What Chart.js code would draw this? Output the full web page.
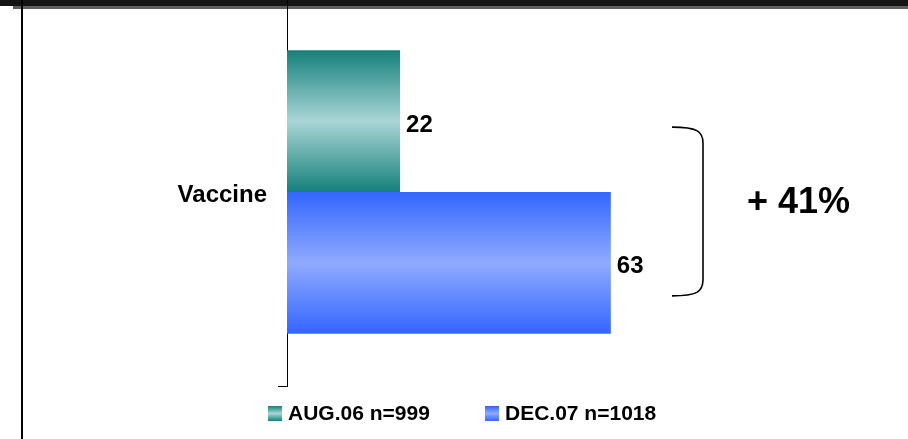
<!DOCTYPE html>
<html>
<head>
<meta charset="utf-8">
<script src="https://cdn.jsdelivr.net/npm/chart.js@4/dist/chart.umd.min.js"></script>
<style>
  html, body { margin: 0; padding: 0; background: #fff; }
  #wrap { position: relative; width: 908px; height: 439px; overflow: hidden; font-family: 'Liberation Sans', Arial, sans-serif; }
  /* canvas sits 2px high so the category band starts just above the frame */
  #chart { position: absolute; left: 0; top: -2px; z-index: 1; }
  .band-dark { position: absolute; left: 0; top: 0; width: 908px; height: 6px; background: #141414; z-index: 0; }
  .band-grey { position: absolute; left: 13px; top: 6px; width: 895px; height: 3px; background: #5f5f5f; z-index: 0; }
  .frame-left { position: absolute; left: 21px; top: 0; width: 2px; height: 439px; background: #000; z-index: 2; }
  .legend-item { position: absolute; top: 401px; display: flex; align-items: center; font-weight: bold; font-size: 21px; color: #000; z-index: 2; white-space: nowrap; }
  .legend-box { width: 14px; height: 15px; margin-right: 6px; }
</style>
</head>
<body>
<div id="wrap">
  <div class="band-dark"></div>
  <div class="band-grey"></div>
  <canvas id="chart" width="908" height="441"></canvas>
  <div class="frame-left"></div>
  <div id="legend"></div>
</div>
<script>
// survey waves and share answering "vaccine"
const categories = ['Vaccine'];
const waveLabels = ['AUG.06 n=999', 'DEC.07 n=1018'];
const aug06 = [22];
const dec07 = [63];

// edge / centre colours of each bar gradient
const waveColors = [
    { edge: '#14807a', mid: '#aad6d6' },
    { edge: '#3366ff', mid: '#90aaff' }
];

const FONT = "'Liberation Sans', Arial, sans-serif";

function barGradient(ctx, top, bottom, c) {
    const g = ctx.createLinearGradient(0, top, 0, bottom);
    g.addColorStop(0, c.edge);
    g.addColorStop(0.5, c.mid);
    g.addColorStop(1, c.edge);
    return g;
}

// paint each bar with a gradient across its thickness
const gradientBars = {
    id: 'gradientBars',
    beforeDatasetsDraw(chart) {
        chart.data.datasets.forEach((ds, i) => {
            chart.getDatasetMeta(i).data.forEach(el => {
                const top = el.y - el.height / 2;
                el.options.backgroundColor = barGradient(chart.ctx, top, top + el.height, waveColors[i]);
            });
        });
    }
};

// value next to each bar, plus the bracket showing the change
const annotations = {
    id: 'annotations',
    afterDatasetsDraw(chart) {
        const ctx = chart.ctx;
        ctx.save();
        ctx.fillStyle = '#000';
        ctx.font = 'bold 24px ' + FONT;
        ctx.textAlign = 'left';
        ctx.textBaseline = 'middle';
        chart.data.datasets.forEach((ds, i) => {
            chart.getDatasetMeta(i).data.forEach((el, j) => {
                ctx.fillText(String(ds.data[j]), el.x + 6, el.y + 4);
            });
        });

        const first = chart.getDatasetMeta(0).data[0];
        const last = chart.getDatasetMeta(1).data[0];
        const top = first.y + 6;
        const bottom = last.y + 33;
        const x0 = 672, x1 = 703, r = 16;
        ctx.strokeStyle = '#000';
        ctx.lineWidth = 1.6;
        ctx.beginPath();
        ctx.moveTo(x0, top);
        ctx.bezierCurveTo(x1 - 6, top, x1, top + 4, x1, top + r);
        ctx.lineTo(x1, bottom - r);
        ctx.bezierCurveTo(x1, bottom - 4, x1 - 6, bottom, x0, bottom);
        ctx.stroke();

        const diff = dec07[0] - aug06[0];
        ctx.font = 'bold 36px ' + FONT;
        ctx.textBaseline = 'alphabetic';
        ctx.fillText('+ ' + diff + '%', 747, first.y + 92);
        ctx.restore();
    }
};

new Chart(document.getElementById('chart'), {
    type: 'bar',
    data: {
        labels: categories,
        datasets: [
            { label: waveLabels[0], data: aug06, backgroundColor: waveColors[0].edge, borderWidth: 0 },
            { label: waveLabels[1], data: dec07, backgroundColor: waveColors[1].edge, borderWidth: 0 }
        ]
    },
    options: {
        indexAxis: 'y',
        responsive: false,
        animation: false,
        categoryPercentage: 0.7306,
        barPercentage: 1,
        layout: { padding: { top: 0, bottom: 53, left: 0, right: 107 } },
        plugins: {
            legend: { display: false },
            tooltip: { enabled: false }
        },
        scales: {
            x: { display: false, min: 0, max: 100 },
            y: {
                afterFit(scale) {
                    scale.width = 287;
                    scale.paddingTop = 0;
                    scale.paddingBottom = 0;
                },
                border: { display: true, color: '#000', width: 1 },
                grid: { drawOnChartArea: false, drawTicks: true, tickLength: 9, color: '#000' },
                ticks: { color: '#000', padding: 11, labelOffset: 3, font: { family: FONT, size: 24, weight: 'bold' } }
            }
        }
    },
    plugins: [gradientBars, annotations]
});

// legend with the same gradient swatches
const legend = document.getElementById('legend');
const legendX = [268, 485];
waveLabels.forEach((text, i) => {
    const item = document.createElement('div');
    item.className = 'legend-item';
    item.style.left = legendX[i] + 'px';
    const c = waveColors[i];
    item.innerHTML = `<span class="legend-box" style="background:linear-gradient(${c.edge}, ${c.mid}, ${c.edge})"></span>${text}`;
    legend.appendChild(item);
});
</script>
</body>
</html>
